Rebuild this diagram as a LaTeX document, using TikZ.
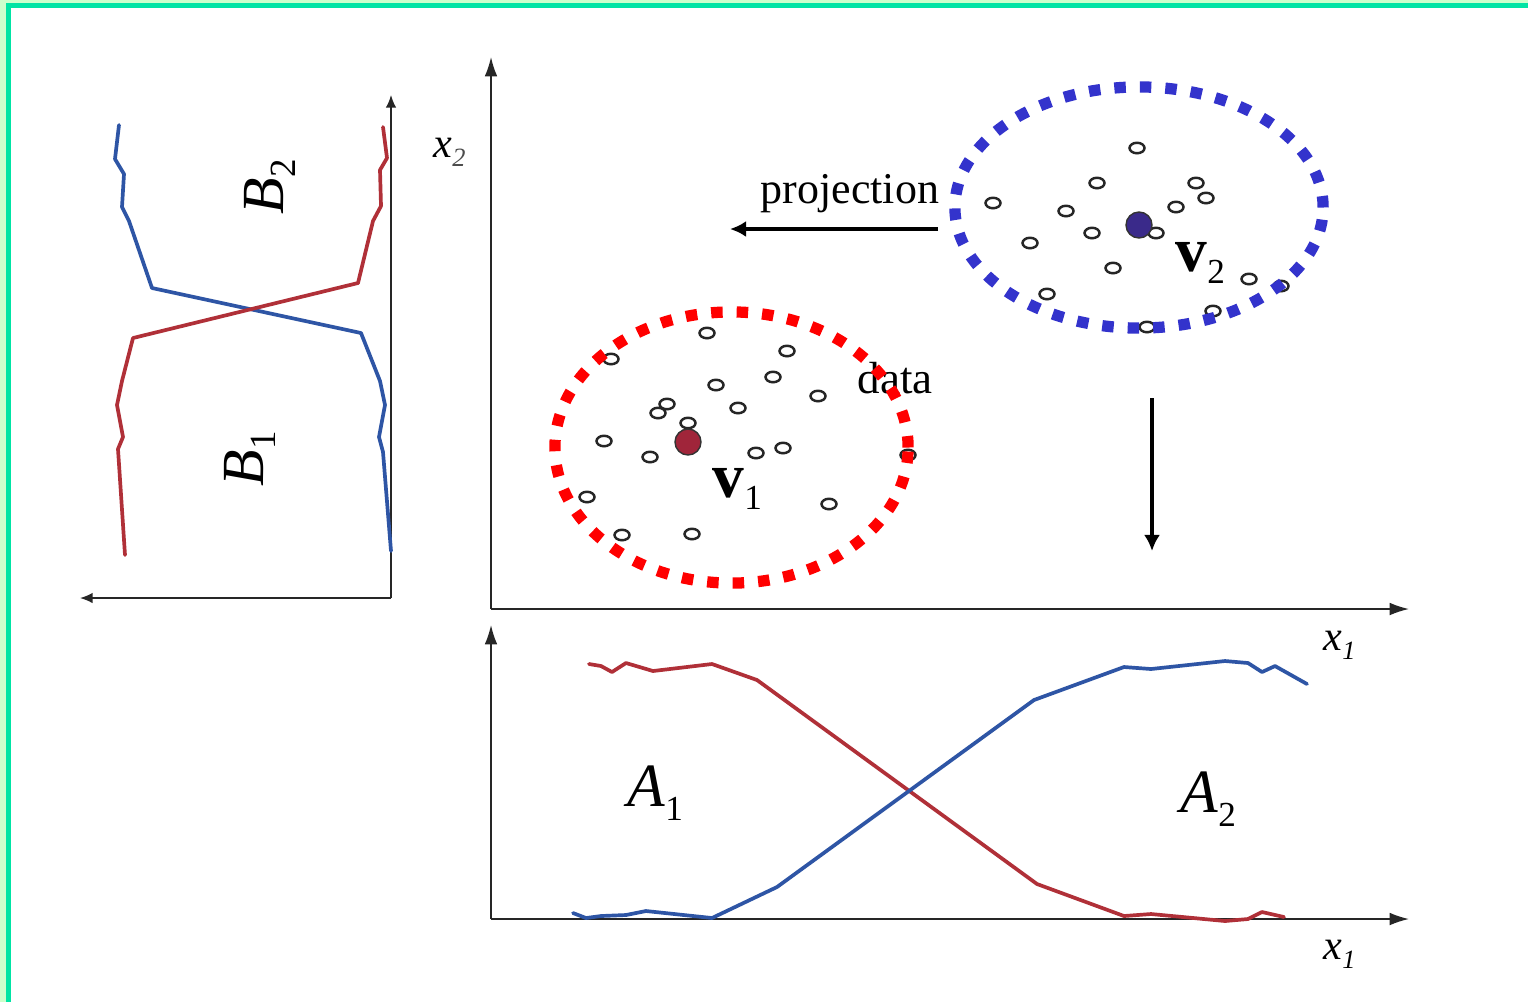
\documentclass[tikz,border=0pt]{standalone}
\usepackage{fontspec}
\setmainfont{Liberation Serif}
\usetikzlibrary{arrows.meta,shapes.geometric}
\definecolor{bdgreen}{RGB}{0,228,164}
\definecolor{bdlight}{RGB}{204,255,204}
\definecolor{cred}{RGB}{176,48,56}
\definecolor{cblue}{RGB}{46,85,165}
\definecolor{ered}{RGB}{255,0,0}
\definecolor{eblue}{RGB}{51,51,204}
\definecolor{vred}{RGB}{160,37,58}
\definecolor{vblue}{RGB}{58,42,138}
\begin{document}
\begin{tikzpicture}[x=0.01cm,y=-0.01cm,
  ax/.style={draw=black!85, line width=0.45pt, -{Latex[length=5.5pt,width=3.6pt]}},
  axs/.style={draw=black!85, line width=0.45pt, -{Latex[length=3.6pt,width=3pt]}},
  cv/.style={line width=1.05pt, line join=round, line cap=round},
  dpt/.style={draw=black!85, ellipse, line width=0.7pt, minimum width=0.15cm, minimum height=0.105cm, inner sep=0pt},
  vdot/.style={circle, draw=black!80, line width=0.4pt, minimum size=0.26cm, inner sep=0pt},
  clus/.style={ellipse, line width=3.2pt, dash pattern=on 0.115cm off 0.14cm, inner sep=0pt},
  lbl/.style={inner sep=0pt, anchor=base west},
  bigarr/.style={draw=black, line width=1.05pt, -{Latex[length=4.6pt,width=4.6pt]}}
]
\useasboundingbox (0,0) rectangle (1528,1002);
\fill[white] (0,0) rectangle (1528,1002);
\fill[bdlight] (0,0) rectangle (1528,2.5);
\fill[bdlight] (0,0) rectangle (6,1002);
\fill[bdgreen] (6,2.5) rectangle (1528,7.5);
\fill[bdgreen] (6,2.5) rectangle (11,1002);

% ---------- left B plot ----------
\coordinate (bo) at (391,598);
\coordinate (by) at (391,95);
\coordinate (bx) at (80,598);
\draw[axs] (bo) -- (by);
\draw[axs] (bo) -- (bx);
\draw[cv, cblue] (119,125) -- (115,159) -- (124,174) -- (122,207) -- (129,221) -- (152,288)
  -- (361,333) -- (380,381) -- (385,405) -- (379,437) -- (383,452) -- (391,551);
\draw[cv, cred] (383,127) -- (387,158) -- (380,170) -- (381,206) -- (373,221) -- (358,283)
  -- (133,338) -- (122,381) -- (117,405) -- (123,437) -- (118,449) -- (125,555);
\node[lbl, rotate=90] (b2) at (283,215) {\fontsize{17}{20}\selectfont\itshape B\upshape\fontsize{10.5}{12}\selectfont\raisebox{-0.35em}{2}};
\node[lbl, rotate=90] (b1) at (263,487) {\fontsize{17}{20}\selectfont\itshape B\upshape\fontsize{10.5}{12}\selectfont\raisebox{-0.35em}{1}};

% ---------- main axes ----------
\coordinate (o1) at (491,609);
\coordinate (y1) at (491,57);
\coordinate (x1) at (1409,609);
\draw[ax] (o1) -- (y1);
\draw[ax] (o1) -- (x1);
\node[lbl] (lx2) at (433,157) {\fontsize{12}{14}\selectfont\itshape x\fontsize{7.5}{9}\selectfont\raisebox{-0.35em}{\color{black!70}2}};
\node[lbl] (lx1a) at (1323,650) {\fontsize{12}{14}\selectfont\itshape x\fontsize{7.5}{9}\selectfont\raisebox{-0.35em}{1}};

% ---------- bottom axes ----------
\coordinate (o2) at (491,919);
\coordinate (y2) at (491,625);
\coordinate (x2) at (1409,919);
\draw[ax] (o2) -- (y2);
\draw[ax] (o2) -- (x2);
\node[lbl] (lx1b) at (1323,959) {\fontsize{12}{14}\selectfont\itshape x\fontsize{7.5}{9}\selectfont\raisebox{-0.35em}{1}};
\draw[cv, cred] (589,664) -- (601,666) -- (612,672) -- (626,663) -- (653,671) -- (712,664) -- (757,680)
  -- (1037,884) -- (1124,916) -- (1151,914) -- (1225,921) -- (1248,919) -- (1262,912) -- (1284,917);
\draw[cv, cblue] (573,913) -- (586,918) -- (601,916) -- (626,915) -- (646,911) -- (712,918) -- (777,887)
  -- (1034,700) -- (1124,667) -- (1151,669) -- (1225,661) -- (1248,663) -- (1262,672) -- (1275,666) -- (1307,684);
\node[lbl] (a1) at (627,806) {\fontsize{17.5}{20}\selectfont\itshape A\upshape\fontsize{10}{12}\selectfont\raisebox{-0.4em}{1}};
\node[lbl] (a2) at (1180,812) {\fontsize{17.5}{20}\selectfont\itshape A\upshape\fontsize{10}{12}\selectfont\raisebox{-0.4em}{2}};

% ---------- cluster 1 (red) ----------
\foreach \p/\q [count=\i] in {611/359,707/333,787/351,716/385,773/377,818/396,667/404,658/413,688/423,738/408,604/441,650/457,756/453,783/448,908/455,587/497,829/504,622/535,692/534}
  \node[dpt] (r\i) at (\p,\q) {};
\node[vdot, fill=vred] (v1) at (688,442) {};
\node[lbl] (lv1) at (712,497) {\fontsize{18}{20}\selectfont\bfseries v\mdseries\fontsize{10}{12}\selectfont\raisebox{-0.35em}{1}};
\node[lbl] (ldata) at (857,393) {\fontsize{12.8}{15}\selectfont data};
\node[clus, draw=ered, minimum width=3.53cm, minimum height=2.71cm] (c1) at (731.5,447.5) {};

% ---------- cluster 2 (blue) ----------
\foreach \p/\q [count=\i] in {1137/148,1097/183,1196/183,1206/198,1176/207,993/203,1066/211,1030/243,1092/233,1156/233,1113/268,1249/279,1281/286,1047/294,1213/311,1147/327}
  \node[dpt] (s\i) at (\p,\q) {};
\node[vdot, fill=vblue] (v2) at (1139,225) {};
\node[lbl] (lv2) at (1175,271) {\fontsize{18}{20}\selectfont\bfseries v\mdseries\fontsize{10}{12}\selectfont\raisebox{-0.35em}{2}};
\node[clus, draw=eblue, minimum width=3.68cm, minimum height=2.41cm] (c2) at (1139,207.5) {};

% ---------- projection arrows ----------
\node[lbl, anchor=base] (lproj) at (850,203) {\fontsize{12.5}{15}\selectfont projection};
\coordinate (pa) at (938,229);
\coordinate (pb) at (730,229);
\draw[bigarr] (pa) -- (pb);
\coordinate (da) at (1152,398);
\coordinate (db) at (1152,551);
\draw[bigarr] (da) -- (db);
\end{tikzpicture}
\end{document}
